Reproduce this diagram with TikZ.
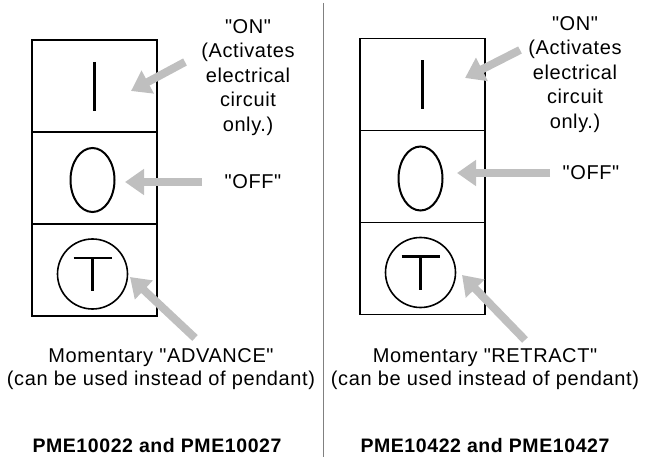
\documentclass[tikz,border=0pt]{standalone}
\usepackage{fontspec}
\newfontfamily\switchfont{Liberation Sans}[LetterSpace=3]
\usetikzlibrary{arrows.meta,positioning}

\begin{document}
\begin{tikzpicture}[
    x=1pt, y=-1pt,
    node distance=0pt and 0pt,
    panel/.style={rectangle, draw, line width=1.3pt, minimum width=125pt, minimum height=92pt, inner sep=0pt, outer sep=0pt},
    lbl/.style={align=center, font=\switchfont\fontsize{20}{24.5}\selectfont, inner sep=0pt},
    caption/.style={align=center, font=\switchfont\fontsize{20}{22.5}\selectfont, inner sep=0pt},
    model/.style={font=\switchfont\fontsize{19.5}{24}\selectfont\bfseries, inner sep=0pt},
    pointer/.style={draw=gray!50, line width=8pt, -{Triangle[width=25pt,length=19pt]}},
    symb/.style={line width=2.6pt}
]
    \useasboundingbox (0,0) rectangle (645,457);

    % Divider
    \coordinate (divtop) at (323,3);
    \coordinate (divbot) at (323,457);
    \draw[gray, line width=1pt] (divtop) -- (divbot);

    % Switch panels, advance unit
    \node[panel] at (94.5,86) (onA) {};
    \node[panel, below=of onA] (offA) {};
    \node[panel, below=of offA] (momA) {};

    % Switch panels, retract unit
    \node[panel] at (422.5,84.5) (onR) {};
    \node[panel, below=of onR] (offR) {};
    \node[panel, below=of offR] (momR) {};

    % Symbols
    \foreach \u in {A,R} {
        \draw[symb] (on\u.center) ++(0,-24) -- ++(0,49);
        \draw[line width=2pt] (off\u.center) ++(-2,2) ellipse [x radius=22pt, y radius=32pt];
        \draw[line width=1.6pt] (mom\u.center) ++(-2,4) circle [radius=35pt];
        \draw[symb] (mom\u.center) ++(-21,-12) -- ++(38,0);
        \draw[symb] (mom\u.center) ++(-2,-12) -- ++(0,33);
    }

    % Labels
    \node[lbl, anchor=north] at (248,19) (onlblA) {"ON"\\(Activates\\electrical\\circuit\\only.)};
    \node[lbl] at (253,182) (offlblA) {"OFF"};
    \node[lbl, anchor=north] at (575,16) (onlblR) {"ON"\\(Activates\\electrical\\circuit\\only.)};
    \node[lbl] at (591,173) (offlblR) {"OFF"};

    \node[caption] at (161,369) (capA) {Momentary "ADVANCE"\\(can be used instead of pendant)};
    \node[caption] at (485,369) (capR) {Momentary "RETRACT"\\(can be used instead of pendant)};

    \node[model] at (157,446) (modelA) {PME10022 and PME10027};
    \node[model] at (485,446) (modelR) {PME10422 and PME10427};

    % Pointer ends
    \coordinate (onAtail) at (185,62);   \coordinate (onAtip) at (131,91);
    \coordinate (offAtail) at (202,182); \coordinate (offAtip) at (125,182);
    \coordinate (momAtail) at (195,338); \coordinate (momAtip) at (130,277);
    \coordinate (onRtail) at (520,50);   \coordinate (onRtip) at (465,78);
    \coordinate (offRtail) at (550,173); \coordinate (offRtip) at (457,173);
    \coordinate (momRtail) at (525,340); \coordinate (momRtip) at (462,275);

    % Pointers
    \foreach \p in {onA,offA,momA,onR,offR,momR}
        \draw[pointer] (\p tail) -- (\p tip);
\end{tikzpicture}
\end{document}
